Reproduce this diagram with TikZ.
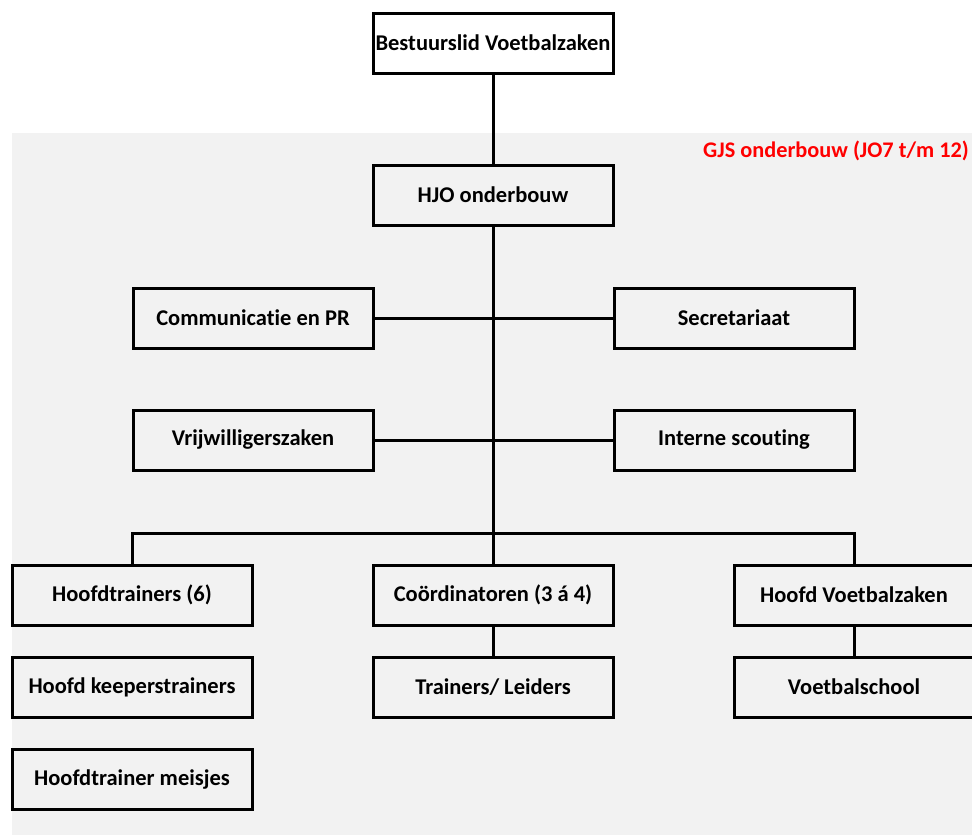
\documentclass[tikz,border=0pt]{standalone}
\usepackage{fontspec}
\setmainfont[Ligatures={NoCommon}]{Carlito}
\definecolor{bggrey}{HTML}{F2F2F2}
\definecolor{lblred}{HTML}{FF0000}
\begin{document}
\begin{tikzpicture}[x=1pt,y=-1pt,
  orgbox/.style={draw=black,line width=3pt,minimum width=240pt,minimum height=60pt,inner sep=0pt,font=\fontsize{22.5}{26}\selectfont\bfseries},
  link/.style={line width=3pt}]
\useasboundingbox (0,0) rectangle (972,835);
\clip (0,0) rectangle (972,835);
\fill[bggrey] (12,133) rectangle (972,835);
\node[anchor=east,text=lblred,font=\fontsize{22.3}{26}\selectfont\bfseries,inner sep=0pt] (lbl) at (969,151) {GJS onderbouw (JO7 t/m 12)};
\node[orgbox,fill=white] (bvz) at (493,43) {Bestuurslid Voetbalzaken};
\node[orgbox] (hjo) at (493,195) {HJO onderbouw};
\node[orgbox] (com) at (253,318) {Communicatie en PR};
\node[orgbox] (sec) at (734,318) {Secretariaat};
\node[orgbox] (vrij) at (253,440) {Vrijwilligerszaken};
\node[orgbox] (scout) at (734,440) {Interne scouting};
\node[orgbox] (ht) at (132,595) {Hoofdtrainers (6)};
\node[orgbox] (coord) at (493,595) {Coördinatoren (3 á 4)};
\node[orgbox] (hvz) at (854,595) {Hoofd Voetbalzaken};
\node[orgbox] (hkt) at (132,687) {Hoofd keeperstrainers};
\node[orgbox] (tl) at (493,687) {Trainers/ Leiders};
\node[orgbox] (vs) at (854,687) {Voetbalschool};
\node[orgbox] (htm) at (132,779) {Hoofdtrainer meisjes};
\coordinate (bar) at (493,533);
\draw[link] (bvz.south) -- (hjo.north);
\draw[link] (hjo.south) -- (bar);
\draw[link] (com.east) -- (sec.west);
\draw[link] (vrij.east) -- (scout.west);
\draw[link] (ht.north) |- (bar) -| (hvz.north);
\draw[link] (bar) -- (coord.north);
\draw[link] (coord.south) -- (tl.north);
\draw[link] (hvz.south) -- (vs.north);
\end{tikzpicture}
\end{document}
